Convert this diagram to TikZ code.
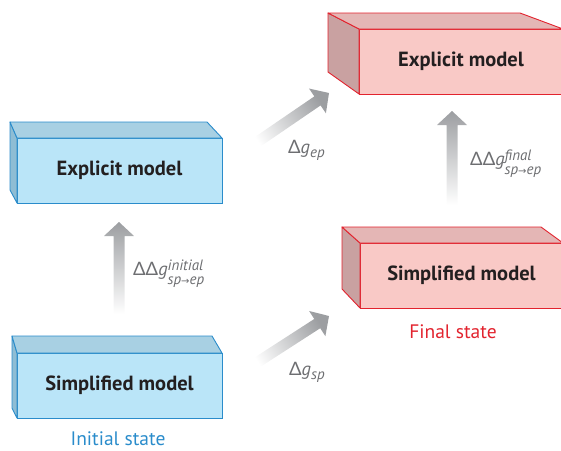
\documentclass[tikz,border=0pt]{standalone}
\usepackage{fontspec}
\setmainfont{PT Sans}
\newfontfamily\greekfont{Lato}
\newfontfamily\arrowfont{DejaVu Sans}
\usetikzlibrary{calc}

\definecolor{bluefront}{HTML}{BAE5F8}
\definecolor{bluetop}{HTML}{A8D0E3}
\definecolor{blueleft}{HTML}{8FBDD4}
\definecolor{blueedge}{HTML}{2A8CCB}
\definecolor{redfront}{HTML}{F9C9C6}
\definecolor{redtop}{HTML}{E4B6B5}
\definecolor{redleft}{HTML}{C9A1A1}
\definecolor{rededge}{HTML}{E2232E}
\definecolor{txt}{HTML}{231F20}
\definecolor{lbl}{HTML}{6D6E71}
\definecolor{arrhead}{HTML}{9C9EA1}

\newcommand{\dg}{{\greekfont Δ}\textit{g}}
\newcommand{\subsup}[2]{\rlap{\raisebox{5pt}{\fontsize{15}{15}\selectfont\itshape #1}}\raisebox{-9pt}{\fontsize{15}{15}\selectfont\itshape #2}}
\newcommand{\sto}{{\arrowfont\fontsize{10}{10}\selectfont →}}

% gray arrow fading towards its tail
\newcommand{\fadearrow}[2]{%
  \coordinate (neck) at ($(#2)!14pt!(#1)$);
  \path let \p1=($(#2)-(#1)$), \n1={atan2(\y1,\x1)} in \pgfextra{\xdef\arrang{\n1}};
  \shade[top color=white, bottom color=arrhead, shading angle=90+\arrang]
    ($(#1)!5.5pt!90:(#2)$) -- ($(neck)!5.5pt!-90:(#1)$) -- ($(neck)!15pt!-90:(#1)$)
    -- (#2) -- ($(neck)!15pt!90:(#1)$) -- ($(neck)!5.5pt!90:(#1)$)
    -- ($(#1)!5.5pt!-90:(#2)$) -- cycle;
}

\begin{document}
\begin{tikzpicture}[x=1pt,y=-1pt,
  box/.style={minimum height=65pt,inner sep=0pt,outer sep=0pt,line width=0.9pt,
    font=\fontsize{20.5}{22}\selectfont\bfseries,text=txt},
  bluebox/.style={box,draw=blueedge,fill=bluefront,minimum width=205pt},
  redbox/.style={box,draw=rededge,fill=redfront,minimum width=204pt},
  blueside/.style={draw=blueedge,line width=0.9pt,line join=round},
  redside/.style={draw=rededge,line width=0.9pt,line join=round},
  dlabel/.style={anchor=base west,inner sep=0pt,text=lbl,font=\fontsize{18.5}{18.5}\selectfont},
  state/.style={anchor=base,inner sep=0pt,font=\fontsize{19.5}{19.5}\selectfont}]
\useasboundingbox (0,0) rectangle (561,450);
\clip (0,0) rectangle (561,450);

% initial state
\node[bluebox] (expI) at (119.5,170.5) {Explicit model};
\draw[blueside,fill=blueleft] (expI.north west) -- ++(-7,-16) -- ($(expI.south west)+(-7,-13)$) -- (expI.south west) -- cycle;
\draw[blueside,fill=bluetop] (expI.north west) -- ++(-7,-16) -- ($(expI.north east)+(-15,-16)$) -- (expI.north east) -- cycle;

\node[bluebox] (simI) at (119.5,385.5) {Simplified model};
\draw[blueside,fill=blueleft] (simI.north west) -- ++(-5,-17) -- ($(simI.south west)+(-5,-10)$) -- (simI.south west) -- cycle;
\draw[blueside,fill=bluetop] (simI.north west) -- ++(-5,-17) -- ($(simI.north east)+(-10,-17)$) -- (simI.north east) -- cycle;
\node[state,text=blueedge] (initial) at (118,445) {Initial state};

% final state
\node[redbox] (expF) at (461,61.5) {Explicit model};
\draw[redside,fill=redleft] (expF.north west) -- ++(-31,-16) -- ($(expF.south west)+(-31,-22)$) -- (expF.south west) -- cycle;
\draw[redside,fill=redtop] (expF.north west) -- ++(-31,-16) -- ($(expF.north east)+(-43,-16)$) -- (expF.north east) -- cycle;

\node[redbox,minimum width=203pt] (simF) at (461.5,275.5) {Simplified model};
\draw[redside,fill=redleft] (simF.north west) -- ++(-18,-16) -- ($(simF.south west)+(-18,-19)$) -- (simF.south west) -- cycle;
\draw[redside,fill=redtop] (simF.north west) -- ++(-18,-16) -- ($(simF.north east)+(-22,-16)$) -- (simF.north east) -- cycle;
\node[state,text=rededge] (final) at (453,338) {Final state};

% arrows
\coordinate (a1) at (119,314); \coordinate (b1) at (119,222);
\coordinate (a2) at (452,205); \coordinate (b2) at (452,111);
\coordinate (a3) at (250,147); \coordinate (b3) at (329,93);
\coordinate (a4) at (250,367); \coordinate (b4) at (329,316);
\fadearrow{a1}{b1}
\fadearrow{a2}{b2}
\fadearrow{a3}{b3}
\fadearrow{a4}{b4}

\node[dlabel] (ddgI) at (133,275) {{\greekfont Δ}\dg\subsup{initial}{sp\sto ep}};
\node[dlabel] (ddgF) at (470,165) {{\greekfont Δ}\dg\subsup{final}{sp\sto ep}};
\node[dlabel] (dgep) at (288,153) {\dg\raisebox{-4pt}{\fontsize{15}{15}\selectfont\itshape ep}};
\node[dlabel] (dgsp) at (289,375) {\dg\raisebox{-4pt}{\fontsize{15}{15}\selectfont\itshape sp}};
\end{tikzpicture}
\end{document}
